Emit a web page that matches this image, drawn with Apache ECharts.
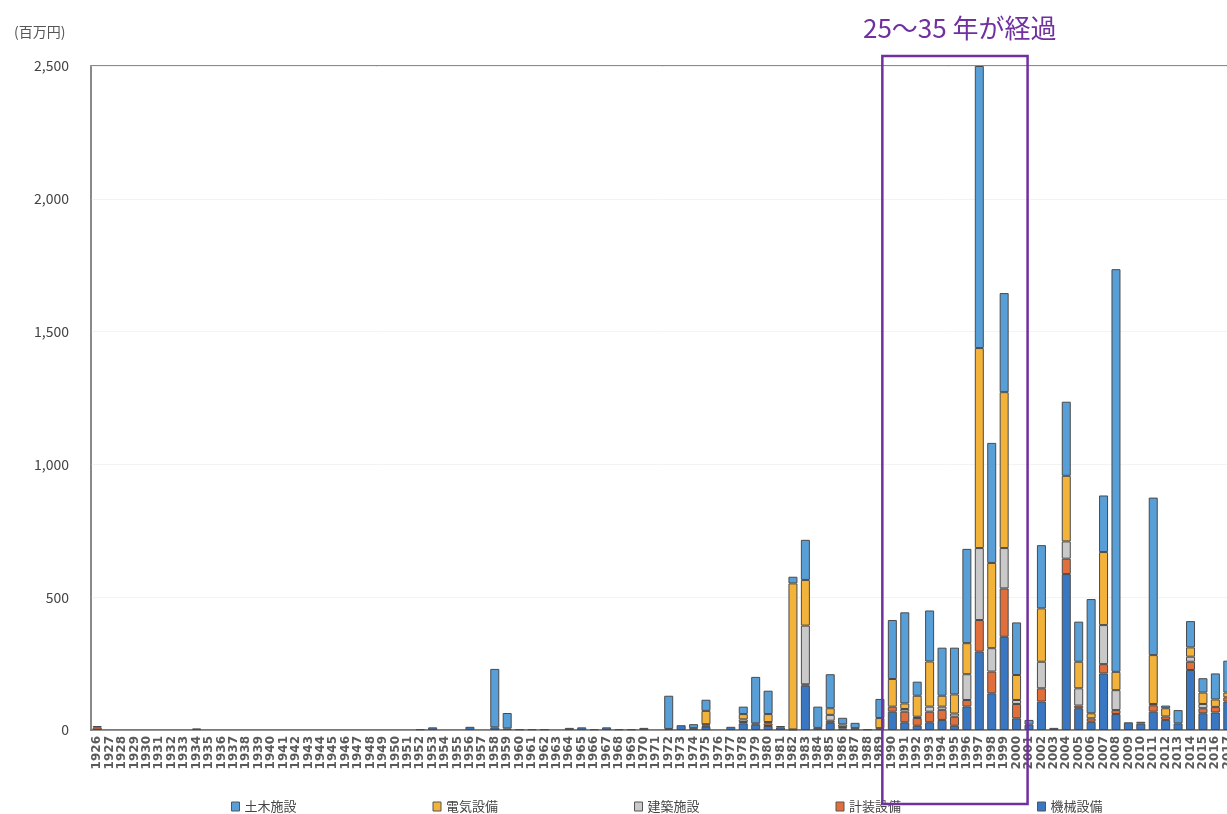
<!DOCTYPE html>
<html>
<head>
<meta charset="utf-8">
<title>施設別 建設年度別 資産額</title>
<script src="https://cdn.jsdelivr.net/npm/echarts@6/dist/echarts.min.js"></script>
<style>
  html, body { margin: 0; padding: 0; background: #fff; overflow: hidden; }
  /* 右端の年度は元図でも切れているので、描画領域を窓より少し広くとる */
  #chart { width: 1250px; height: 814px; }
</style>
</head>
<body>
<div id="chart"></div>
<script>
// 年度 1926〜2017
const startYear = 1926;
const endYear = 2017;
const years = [];
for (let y = startYear; y <= endYear; y++) years.push(String(y));

const seriesNames = ['土木施設', '電気設備', '建築施設', '計装設備', '機械設備'];
const yTicks = [0, 500, 1000, 1500, 2000, 2500];

// 値（百万円） 10年ごとに改行: 1926-35, 1936-45, ... , 2016-17
const doboku = [
  0, 0, 0, 0, 0, 0, 0, 0, 0, 0,
  0, 0, 0, 0, 0, 0, 0, 0, 0, 0,
  0, 0, 0, 0, 0, 0, 0, 0, 0, 0,
  0, 0, 220, 58, 0, 0, 0, 0, 0, 0,
  0, 0, 0, 0, 0, 0, 125, 0, 15, 42,
  0, 0, 28, 175, 88, 0, 25, 151, 80, 128,
  25, 20, 0, 72, 222, 343, 53, 192, 181, 176,
  355, 1062, 452, 373, 198, 18, 238, 0, 279, 151,
  430, 213, 1516, 0, 0, 593, 10, 50, 99, 54,
  98, 120
];
const denki = [
  5, 0, 0, 0, 0, 0, 0, 0, 0, 0,
  0, 0, 0, 0, 0, 0, 0, 0, 0, 0,
  0, 0, 0, 0, 0, 0, 0, 0, 0, 0,
  0, 0, 0, 0, 0, 0, 0, 0, 0, 0,
  0, 0, 0, 0, 0, 0, 0, 0, 0, 50,
  0, 0, 20, 0, 30, 0, 550, 172, 0, 25,
  10, 0, 0, 38, 104, 21, 79, 170, 41, 72,
  117, 753, 321, 587, 94, 0, 201, 0, 247, 100,
  19, 275, 69, 0, 0, 184, 31, 0, 35, 43,
  28, 18
];
const kenchiku = [
  0, 0, 0, 0, 0, 0, 0, 0, 0, 0,
  0, 0, 0, 0, 0, 0, 0, 0, 0, 0,
  0, 0, 0, 0, 0, 0, 0, 0, 0, 0,
  0, 0, 0, 0, 0, 0, 0, 0, 0, 0,
  0, 0, 0, 0, 0, 0, 0, 0, 0, 5,
  0, 0, 10, 5, 5, 0, 0, 221, 0, 22,
  0, 0, 0, 0, 0, 10, 5, 19, 12, 12,
  97, 271, 88, 152, 15, 0, 100, 0, 65, 65,
  0, 147, 75, 0, 0, 5, 0, 0, 19, 16,
  0, 0
];
const keiso = [
  10, 0, 0, 0, 0, 0, 0, 0, 0, 0,
  0, 0, 0, 0, 0, 0, 0, 0, 0, 0,
  0, 0, 0, 0, 0, 0, 0, 0, 0, 0,
  0, 0, 0, 0, 0, 0, 0, 0, 0, 0,
  0, 0, 0, 0, 0, 0, 0, 0, 0, 5,
  0, 0, 5, 0, 10, 5, 0, 5, 0, 8,
  5, 0, 0, 0, 19, 40, 29, 40, 38, 34,
  25, 119, 82, 182, 54, 0, 50, 0, 58, 10,
  13, 35, 15, 0, 7, 24, 13, 0, 31, 19,
  21, 16
];
const kikai = [
  0, 0, 0, 0, 0, 0, 0, 0, 6, 0,
  0, 0, 0, 0, 0, 0, 0, 0, 0, 0,
  0, 0, 0, 0, 0, 0, 3, 10, 0, 0,
  12, 0, 10, 6, 3, 3, 3, 0, 8, 10,
  3, 10, 3, 3, 8, 0, 4, 18, 7, 12,
  0, 12, 25, 20, 15, 10, 2, 167, 8, 27,
  6, 7, 3, 7, 69, 29, 16, 29, 38, 16,
  88, 295, 138, 351, 44, 20, 107, 8, 587, 82,
  31, 213, 60, 29, 24, 69, 38, 25, 226, 63,
  66, 107
];

const colors = {
  '土木施設': '#589fd7',
  '電気設備': '#f3b23a',
  '建築施設': '#c9c9c9',
  '計装設備': '#e06f3c',
  '機械設備': '#3a77c2'
};

const chart = echarts.init(document.getElementById('chart'));

// 積み上げ順（下から）：機械 → 計装 → 建築 → 電気 → 土木
const stackOrder = [
  ['機械設備', kikai],
  ['計装設備', keiso],
  ['建築施設', kenchiku],
  ['電気設備', denki],
  ['土木施設', doboku]
];

const series = stackOrder.map(([name, values]) => ({
  name: name,
  type: 'bar',
  stack: 'total',
  barWidth: 9,
  data: values.map(v => (v ? v : '-')),
  itemStyle: {
    color: colors[name],
    borderColor: '#4a4a4a',
    borderWidth: 1
  }
}));

const option = {
  animation: false,
  title: [
    {
      text: '(百万円)',
      left: 9,
      top: 20,
      textStyle: {
        fontSize: 14,
        fontWeight: 'normal',
        color: '#555',
        fontFamily: 'Noto Sans CJK JP'
      }
    },
    {
      text: '25～35 年が経過',
      left: 858,
      top: 10,
      textStyle: {
        fontSize: 26,
        fontWeight: 'normal',
        color: '#7030a0',
        fontFamily: 'Noto Sans CJK JP'
      }
    }
  ],
  legend: {
    data: seriesNames,
    left: 226,
    top: 795,
    itemWidth: 8,
    itemHeight: 9,
    itemGap: 136,
    icon: 'rect',
    itemStyle: { borderColor: '#555', borderWidth: 1 },
    textStyle: {
      fontSize: 13,
      color: '#444',
      fontFamily: 'Noto Sans CJK JP'
    }
  },
  grid: {
    left: 91,
    top: 66,
    width: 1143,
    height: 664,
    show: true,
    borderColor: '#666',
    borderWidth: 1.5
  },
  xAxis: {
    type: 'category',
    data: years,
    axisTick: { show: false },
    axisLine: { lineStyle: { color: '#777', width: 1.5 } },
    axisLabel: {
      interval: 0,
      rotate: 90,
      margin: 6,
      fontSize: 12,
      fontWeight: 'bold',
      color: '#5a5a5a',
      fontFamily: 'DejaVu Sans'
    }
  },
  yAxis: {
    type: 'value',
    min: yTicks[0],
    max: yTicks[yTicks.length - 1],
    interval: yTicks[1] - yTicks[0],
    axisLine: { show: true, lineStyle: { color: '#888', width: 1.5 } },
    axisTick: { show: false },
    splitLine: { lineStyle: { color: '#f3f3f3' } },
    axisLabel: {
      margin: 22,
      fontSize: 14,
      color: '#444',
      fontFamily: 'Noto Sans CJK JP',
      formatter: v => v.toLocaleString('en-US')
    }
  },
  series: series
};
chart.setOption(option);

// 1990〜2000 を囲む枠（軸の座標から計算）
const xa = chart.convertToPixel({ xAxisIndex: 0 }, '1990');
const xb = chart.convertToPixel({ xAxisIndex: 0 }, '2000');
const yTop = chart.convertToPixel({ yAxisIndex: 0 }, yTicks[yTicks.length - 1]);
const yZero = chart.convertToPixel({ yAxisIndex: 0 }, 0);
chart.setOption({
  graphic: [
    {
      type: 'rect',
      shape: {
        x: xa - 10,
        y: yTop - 10,
        width: xb - xa + 21,
        height: yZero + 74 - (yTop - 10)
      },
      style: { fill: 'none', stroke: '#7030a0', lineWidth: 2.5 },
      z: 100
    }
  ]
});
</script>
</body>
</html>
